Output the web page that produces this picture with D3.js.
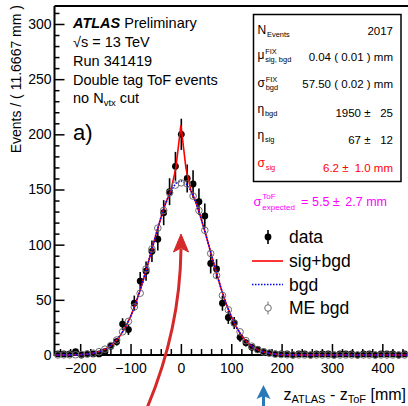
<!DOCTYPE html>
<html><head><meta charset="utf-8">
<script src="https://cdn.jsdelivr.net/npm/d3@7/dist/d3.min.js"></script>
<style>
html,body{margin:0;padding:0;background:#fff;}
svg{display:block;font-family:"Liberation Sans",Arial,Helvetica,sans-serif;}
</style></head>
<body>
<svg id="c" width="408" height="406"></svg>
<script>
// ---- data ----
const binLow = -250, binWidth = 11.6667, nBins = 60;
const dataCounts = [1,1,1,3,0,1,1,1,3,
  8,12,28,23,47,67,76,94,105,129,148,171,
  200,
  160,155,139,126,83,78,47,34,29,16,11,7,5,3,2,1,1,
  1,0,1,1,0,1,1,1,0,1,1,1,0,1,1,0,1,1,1,0,1];
const meBgd = [0,0.1,0.1,0.2,0.5,0.9,1.7,3.0,5.3,
  8.6,13.6,21,30.5,43.5,56,78,96,115,131,147,154,
  156,
  155,144,131,113,92,72,54,41,29,21,13,8,4.8,2.8,1.6,0.8,0.4,
  0.2,0.1,0.05,0,0,0,0,0,0,0,0,0,0,0,0,0,0,0,0,0,0];
const curveX = d3.range(-250, 451, 10);
const bgdCurve = [0.01,0.03,0.05,0.1,0.2,0.37,
  0.67,1.2,2.0,3.3,5.3,8.2,12.3,17.9,25.3,34.8,
  46.4,60.0,75.3,91.7,108.3,124.0,137.9,148.7,155.6,158.0,
  155.6,148.7,137.9,124.0,108.3,91.7,75.3,60.0,46.4,34.8,
  25.3,17.9,12.3,8.2,5.3,3.3,2.0,1.2,0.67,0.37,
  0.2,0.1,0.05,0.03,0.01,0,0,0,0,0,0,0,0,0,0,0,0,0,0,0,0,0,0,0,0];
const sigBgdCurve = [0.01,0.03,0.05,0.1,0.2,0.37,
  0.67,1.2,2.0,3.3,5.3,8.2,12.3,17.9,25.3,34.8,
  46.4,60.0,75.3,91.7,108.3,124.0,137.9,148.9,169.3,208.3,
  169.3,148.9,137.9,124.0,108.3,91.7,75.3,60.0,46.4,34.8,
  25.3,17.9,12.3,8.2,5.3,3.3,2.0,1.2,0.67,0.37,
  0.2,0.1,0.05,0.03,0.01,0,0,0,0,0,0,0,0,0,0,0,0,0,0,0,0,0,0,0,0];
const xMajorTicks = [-200,-100,0,100,200,300,400];
const xTickLabels = ["\u2212200","\u2212100","0","100","200","300","400"];
const yMajorTicks = [0,50,100,150,200,250,300];
const yTickLabels = ["0","50","100","150","200","250","300"];
const infoLines = ["ATLAS","Preliminary","\u221As = 13 TeV","Run 341419","Double tag ToF events"];
const boxLabels = [
  {m:"N", sup:"", sub:"Events"},
  {m:"\u03BC", sup:"FIX", sub:"sig, bgd"},
  {m:"\u03C3", sup:"FIX", sub:"bgd"},
  {m:"\u03B7", sup:"", sub:"bgd"},
  {m:"\u03B7", sup:"", sub:"sig"},
  {m:"\u03C3", sup:"", sub:"sig"}];
const boxValues = [["2017",""],["0.04 ( 0.01 ) mm",""],["57.50 ( 0.02 ) mm",""],["1950 \u00B1","25"],["67 \u00B1","12"],["6.2 \u00B1","1.0 mm"]];
const legendItems = ["data","sig+bgd","bgd","ME bgd"];

// ---- scales ----
const svg = d3.select("#c");
const x = d3.scaleLinear().domain([-250, 450]).range([55, 407.5]);
const y = d3.scaleLinear().domain([0, 316.3]).range([355, 6]);
const centers = d3.range(nBins).map(i => binLow + binWidth*(i+0.5));
const F = '"Liberation Sans",Arial,Helvetica,sans-serif';

// ---- axes ----
const gx = svg.append("g").attr("transform","translate(0,355)");
gx.call(d3.axisBottom(x).tickValues(d3.range(-240,451,20).filter(v=>v%100!==0)).tickSize(-6).tickFormat("").tickSizeOuter(0));
const gx2 = svg.append("g").attr("transform","translate(0,355)");
gx2.call(d3.axisBottom(x).tickValues(xMajorTicks).tickSize(-11).tickPadding(8).tickSizeOuter(0)
  .tickFormat((d,i)=>xTickLabels[i]));
const gy = svg.append("g").attr("transform","translate(54.5,0)");
gy.call(d3.axisLeft(y).tickValues(d3.range(0,317,10).filter(v=>v%50!==0)).tickSize(-5).tickFormat("").tickSizeOuter(0));
const gy2 = svg.append("g").attr("transform","translate(54.5,0)");
gy2.call(d3.axisLeft(y).tickValues(yMajorTicks).tickSize(-10).tickPadding(3).tickSizeOuter(0)
  .tickFormat((d,i)=>yTickLabels[i]));
svg.selectAll(".domain").remove();
svg.selectAll(".tick line").attr("stroke","#000").attr("stroke-width",1.5);
svg.selectAll(".tick text").attr("font-size",14).attr("font-family",F).attr("fill","#000");
// frame
svg.append("path").attr("d","M54.5,6 L54.5,355 L410,355").attr("fill","none").attr("stroke","#000").attr("stroke-width",2);
svg.append("line").attr("x1",54.5).attr("x2",410).attr("y1",6).attr("y2",6).attr("stroke","#000").attr("stroke-width",2);

// ---- data points ----
const gd = svg.append("g");
dataCounts.forEach((v,i)=>{
  const cx = x(centers[i]);
  if (v>0) gd.append("line").attr("x1",cx).attr("x2",cx)
    .attr("y1",y(v+Math.sqrt(v))).attr("y2",y(Math.max(0,v-Math.sqrt(v))))
    .attr("stroke","#000").attr("stroke-width",1.6);
  gd.append("circle").attr("cx",cx).attr("cy",y(v)).attr("r",3.4).attr("fill","#000");
});
// ---- curves ----
const line = d3.line().x((d,i)=>x(curveX[i])).y(d=>y(d));
svg.append("path").attr("d",line(sigBgdCurve)).attr("fill","none").attr("stroke","#ff0000").attr("stroke-width",1.6);
svg.append("path").attr("d",line(bgdCurve)).attr("fill","none").attr("stroke","#0000ff").attr("stroke-width",1.6).attr("stroke-dasharray","1.5,1.5");
// ---- ME bgd ----
const gm = svg.append("g");
meBgd.forEach((v,i)=>{
  gm.append("circle").attr("cx",x(centers[i])).attr("cy",y(v)).attr("r",3.3)
    .attr("fill","none").attr("stroke","#6e6e6e").attr("stroke-width",1);
});

// ---- texts ----
function txt(xx,yy,s,size,opts={}){
  const t = svg.append("text").attr("x",xx).attr("y",yy).attr("font-size",size).attr("font-family",F)
    .attr("fill",opts.fill||"#000").text(s);
  if(opts.anchor) t.attr("text-anchor",opts.anchor);
  if(opts.weight) t.attr("font-weight",opts.weight);
  if(opts.style) t.attr("font-style",opts.style);
  return t;
}
function symLabel(xx,yy,lab,size,fill,supDy,subDy){
  const t = txt(xx,yy,lab.m,size,{fill});
  const w = t.node().getComputedTextLength();
  const s2 = size*0.62;
  if(lab.sup) txt(xx+w+0.8, yy-supDy, lab.sup, s2, {fill});
  if(lab.sub) txt(xx+w+0.8, yy+subDy, lab.sub, s2, {fill});
}
// y title
svg.append("text").attr("transform","translate(20.5,5) rotate(-90)").attr("text-anchor","end")
  .attr("font-size",14).attr("font-family",F).text("Events / ( 11.6667 mm )");
// x title
const xt = svg.append("text").attr("x",406).attr("y",399.5).attr("text-anchor","end").attr("font-size",16).attr("font-family",F);
xt.append("tspan").text("z");
xt.append("tspan").attr("font-size",11).attr("dy",3.5).text("ATLAS");
xt.append("tspan").attr("dy",-3.5).text(" - z");
xt.append("tspan").attr("font-size",11).attr("dy",3.5).text("ToF");
xt.append("tspan").attr("dy",-3.5).text(" [mm]");

// ATLAS label
const a1 = txt(73,28,infoLines[0],14.5,{weight:"bold",style:"italic"});
const aw = a1.node().getComputedTextLength();
txt(73+aw+4,28,infoLines[1],14.5);
txt(73,47,infoLines[2],14.5);
txt(73,66,infoLines[3],14.5);
txt(73,84.5,infoLines[4],14.5);
const nv = svg.append("text").attr("x",73).attr("y",102.5).attr("font-size",14.5).attr("font-family",F);
nv.append("tspan").text("no N");
nv.append("tspan").attr("font-size",9.5).attr("dy",3.5).text("vtx");
nv.append("tspan").attr("dy",-3.5).text(" cut");
txt(73,140,"a)",22);

// stats box
svg.append("rect").attr("x",253.5).attr("y",14.5).attr("width",147.5).attr("height",167).attr("fill","#fff").attr("stroke","#000").attr("stroke-width",1.5);
const labBase = [33.5,59,87,113,139,167];
const valBase = [34.5,61,88,117,144,171.5];
boxLabels.forEach((lab,i)=>{
  const fill = i===5 ? "#ff0000" : "#000";
  symLabel(257.5, labBase[i], lab, 12, fill, 5, 3);
  const v = boxValues[i];
  if(v[1]===""){
    txt(393,valBase[i],v[0],11.5,{anchor:"end",fill});
  } else {
    const endX = i===5 ? 348.5 : 370.5;
    txt(endX,valBase[i],v[0],11.5,{anchor:"end",fill});
    txt(393,valBase[i],v[1],11.5,{anchor:"end",fill});
  }
});

// sigma expected
const mag = "#ff00ff";
symLabel(253.5, 206, {m:"\u03C3",sup:"ToF",sub:"expected"}, 13, mag, 7, 3.5);
txt(301,206,"=",12.5,{fill:mag});
txt(312,206,"5.5 \u00B1",12.5,{fill:mag});
txt(387,206,"2.7 mm",12.5,{fill:mag,anchor:"end"});

// legend
const legY = [237,261,284.5,308];
const lx = 268;
svg.append("line").attr("x1",lx).attr("x2",lx).attr("y1",legY[0]-7).attr("y2",legY[0]+7).attr("stroke","#000").attr("stroke-width",1.6);
svg.append("circle").attr("cx",lx).attr("cy",legY[0]).attr("r",3.4).attr("fill","#000");
svg.append("line").attr("x1",252).attr("x2",283).attr("y1",legY[1]).attr("y2",legY[1]).attr("stroke","#ff0000").attr("stroke-width",1.6);
svg.append("line").attr("x1",252).attr("x2",283).attr("y1",legY[2]).attr("y2",legY[2]).attr("stroke","#0000ff").attr("stroke-width",1.6).attr("stroke-dasharray","1.5,1.5");
svg.append("line").attr("x1",lx).attr("x2",lx).attr("y1",legY[3]-6.5).attr("y2",legY[3]+6.5).attr("stroke","#6e6e6e").attr("stroke-width",1);
svg.append("circle").attr("cx",lx).attr("cy",legY[3]).attr("r",3.3).attr("fill","#fff").attr("stroke","#6e6e6e").attr("stroke-width",1);
legendItems.forEach((s,i)=>txt(289,legY[i]+6.3,s,17.5));

// red curved arrow
const red = "#d42a2a";
svg.append("path").attr("d","M147,408 Q180,330 181,249").attr("fill","none").attr("stroke",red).attr("stroke-width",3);
svg.append("path").attr("d","M181,234 L188.5,252 L181,248 L173.5,252 Z").attr("fill",red).attr("stroke",red).attr("stroke-width",1);
// blue arrow
const blue = "#2a7ab8";
svg.append("line").attr("x1",263.5).attr("x2",263.5).attr("y1",395).attr("y2",408).attr("stroke",blue).attr("stroke-width",3);
svg.append("path").attr("d","M263.5,385 L270.5,399 L263.5,396 L256.5,399 Z").attr("fill",blue);
</script>
</body></html>
